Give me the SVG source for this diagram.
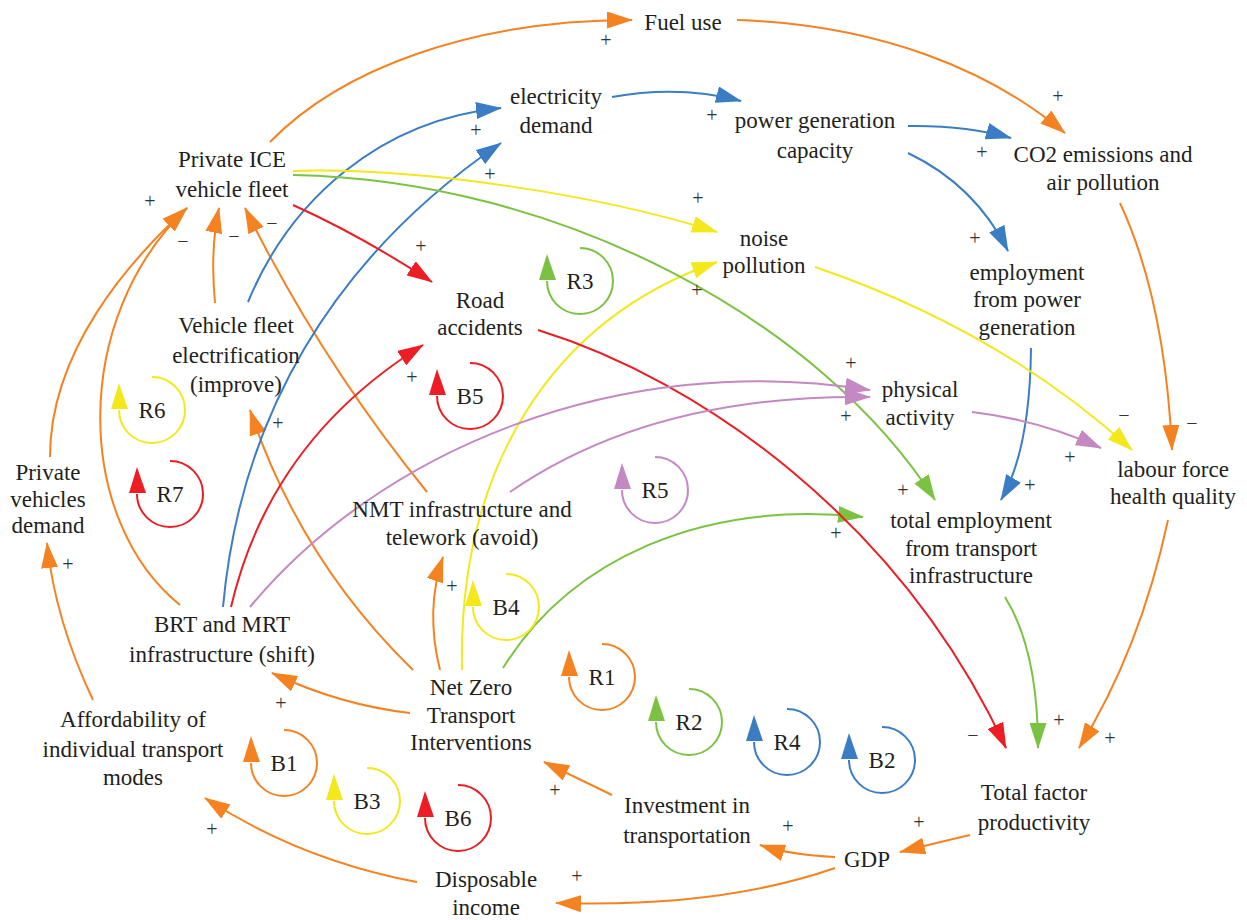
<svg xmlns="http://www.w3.org/2000/svg" width="1247" height="920" viewBox="0 0 1247 920" font-family="'Liberation Serif', 'DejaVu Serif', serif">
<style>
text{font-family:"Liberation Serif","DejaVu Serif",serif;fill:#231f20}
.n{font-size:23px;text-anchor:middle}
.s{font-size:20px;text-anchor:middle;fill:#333}
.c{fill:none;stroke-width:2}
.o{stroke:#f58220}.b{stroke:#3b7dc4}.y{stroke:#f2e81c}.g{stroke:#7cc242}.r{stroke:#ec1d25}.p{stroke:#c488c2}
.fo{fill:#f58220}.fb{fill:#3b7dc4}.fy{fill:#f2e81c}.fg{fill:#7cc242}.fr{fill:#ec1d25}.fp{fill:#c488c2}
</style>
<defs>
<marker id="mo" markerUnits="userSpaceOnUse" viewBox="0 0 26 17" markerWidth="26" markerHeight="17" refX="25" refY="8.5" orient="auto"><path d="M0,0 L26,8.5 L0,17 z" class="fo"/></marker>
<marker id="mb" markerUnits="userSpaceOnUse" viewBox="0 0 26 17" markerWidth="26" markerHeight="17" refX="25" refY="8.5" orient="auto"><path d="M0,0 L26,8.5 L0,17 z" class="fb"/></marker>
<marker id="my" markerUnits="userSpaceOnUse" viewBox="0 0 26 17" markerWidth="26" markerHeight="17" refX="25" refY="8.5" orient="auto"><path d="M0,0 L26,8.5 L0,17 z" class="fy"/></marker>
<marker id="mg" markerUnits="userSpaceOnUse" viewBox="0 0 26 17" markerWidth="26" markerHeight="17" refX="25" refY="8.5" orient="auto"><path d="M0,0 L26,8.5 L0,17 z" class="fg"/></marker>
<marker id="mr" markerUnits="userSpaceOnUse" viewBox="0 0 26 17" markerWidth="26" markerHeight="17" refX="25" refY="8.5" orient="auto"><path d="M0,0 L26,8.5 L0,17 z" class="fr"/></marker>
<marker id="mp" markerUnits="userSpaceOnUse" viewBox="0 0 26 17" markerWidth="26" markerHeight="17" refX="25" refY="8.5" orient="auto"><path d="M0,0 L26,8.5 L0,17 z" class="fp"/></marker>
<g id="loop"><path d="M0,-33 A33,33 0 1,1 -33,0" fill="none" stroke-width="2"/></g>
</defs>
<rect width="1247" height="920" fill="#fff"/>
<g id="connectors">
<g class="c o" marker-end="url(#mo)">
<path d="M270,142 C340,70 470,20 632,20"/>
<path d="M737,20 C880,25 990,70 1065,133"/>
<path d="M1120,203 Q1165,300 1172,450"/>
<path d="M1168,520 Q1140,650 1079,748"/>
<path d="M970,835 Q940,842 900,852"/>
<path d="M835,857 Q790,855 760,845"/>
<path d="M835,868 Q720,908 556,903"/>
<path d="M612,795 L544,762"/>
<path d="M417,882 Q300,860 205,798"/>
<path d="M93,700 Q55,620 47,543"/>
<path d="M50,457 C50,350 130,260 187,208"/>
<path d="M180,605 C75,520 70,320 187,208"/>
<path d="M215,303 Q210,250 219,208"/>
<path d="M427,492 Q320,360 245,208"/>
<path d="M413,670 Q300,560 250,410"/>
<path d="M410,713 Q340,705 272,673"/>
<path d="M440,670 Q425,610 443,557"/>
</g>
<g class="c b" marker-end="url(#mb)">
<path d="M248,302 C290,200 380,120 501,108"/>
<path d="M223,607 C240,420 330,260 501,143"/>
<path d="M612,97 Q680,85 741,101"/>
<path d="M908,126 Q965,125 1011,138"/>
<path d="M908,153 Q975,185 1008,251"/>
<path d="M1031,348 Q1030,450 1001,500"/>
</g>
<g class="c y" marker-end="url(#my)">
<path d="M293,171 C420,167 600,195 717,232"/>
<path d="M815,267 Q1000,330 1132,450"/>
<path d="M462,670 C458,470 550,320 717,262"/>
</g>
<g class="c g" marker-end="url(#mg)">
<path d="M293,175 C560,180 820,320 935,500"/>
<path d="M503,668 C570,560 700,500 863,517"/>
<path d="M1005,597 Q1038,650 1038,748"/>
</g>
<g class="c r" marker-end="url(#mr)">
<path d="M293,205 Q360,235 432,282"/>
<path d="M231,607 Q270,440 423,345"/>
<path d="M538,330 C700,380 900,520 1006,748"/>
</g>
<g class="c p" marker-end="url(#mp)">
<path d="M250,607 C380,450 620,350 870,390"/>
<path d="M510,492 C600,430 720,395 870,397"/>
<path d="M972,412 Q1040,420 1101,448"/>
</g>
</g>
<g id="signs" font-family="'Liberation Serif', 'DejaVu Serif', serif">
<text class="s" x="606" y="47">+</text>
<text class="s" x="1058" y="103">+</text>
<text class="s" x="1192" y="430">−</text>
<text class="s" x="1110" y="745">+</text>
<text class="s" x="919" y="829">+</text>
<text class="s" x="788" y="833">+</text>
<text class="s" x="577" y="883">+</text>
<text class="s" x="555" y="797">+</text>
<text class="s" x="212" y="836">+</text>
<text class="s" x="68" y="571">+</text>
<text class="s" x="150" y="208">+</text>
<text class="s" x="183" y="248">−</text>
<text class="s" x="234" y="243">−</text>
<text class="s" x="272" y="230">−</text>
<text class="s" x="278" y="430">+</text>
<text class="s" x="281" y="710">+</text>
<text class="s" x="452" y="593">+</text>
<text class="s" x="476" y="137">+</text>
<text class="s" x="490" y="181">+</text>
<text class="s" x="712" y="122">+</text>
<text class="s" x="982" y="159">+</text>
<text class="s" x="975" y="245">+</text>
<text class="s" x="1030" y="492">+</text>
<text class="s" x="698" y="205">+</text>
<text class="s" x="1124" y="422">−</text>
<text class="s" x="697" y="297">+</text>
<text class="s" x="903" y="497">+</text>
<text class="s" x="836" y="540">+</text>
<text class="s" x="1059" y="727">+</text>
<text class="s" x="421" y="253">+</text>
<text class="s" x="412" y="384">+</text>
<text class="s" x="973" y="742">−</text>
<text class="s" x="851" y="370">+</text>
<text class="s" x="846" y="423">+</text>
<text class="s" x="1070" y="464">+</text>
</g>
<g id="loops" font-family="'Liberation Serif', 'DejaVu Serif', serif">
<g id="loop-R3" transform="translate(580,281)"><use href="#loop" class="g"/><polygon points="-33,-27 -41,-1 -24,-1" class="fg"/><text class="n" y="8">R3</text></g>
<g id="loop-B5" transform="translate(470,396)"><use href="#loop" class="r"/><polygon points="-33,-27 -41,-1 -24,-1" class="fr"/><text class="n" y="8">B5</text></g>
<g id="loop-R6" transform="translate(152,410)"><use href="#loop" class="y"/><polygon points="-33,-27 -41,-1 -24,-1" class="fy"/><text class="n" y="8">R6</text></g>
<g id="loop-R7" transform="translate(170,494)"><use href="#loop" class="r"/><polygon points="-33,-27 -41,-1 -24,-1" class="fr"/><text class="n" y="8">R7</text></g>
<g id="loop-R5" transform="translate(655,490)"><use href="#loop" class="p"/><polygon points="-33,-27 -41,-1 -24,-1" class="fp"/><text class="n" y="8">R5</text></g>
<g id="loop-B4" transform="translate(506,607)"><use href="#loop" class="y"/><polygon points="-33,-27 -41,-1 -24,-1" class="fy"/><text class="n" y="8">B4</text></g>
<g id="loop-R1" transform="translate(602,677)"><use href="#loop" class="o"/><polygon points="-33,-27 -41,-1 -24,-1" class="fo"/><text class="n" y="8">R1</text></g>
<g id="loop-R2" transform="translate(689,722)"><use href="#loop" class="g"/><polygon points="-33,-27 -41,-1 -24,-1" class="fg"/><text class="n" y="8">R2</text></g>
<g id="loop-R4" transform="translate(787,742)"><use href="#loop" class="b"/><polygon points="-33,-27 -41,-1 -24,-1" class="fb"/><text class="n" y="8">R4</text></g>
<g id="loop-B2" transform="translate(882,760)"><use href="#loop" class="b"/><polygon points="-33,-27 -41,-1 -24,-1" class="fb"/><text class="n" y="8">B2</text></g>
<g id="loop-B6" transform="translate(458,818)"><use href="#loop" class="r"/><polygon points="-33,-27 -41,-1 -24,-1" class="fr"/><text class="n" y="8">B6</text></g>
<g id="loop-B1" transform="translate(284,763)"><use href="#loop" class="o"/><polygon points="-33,-27 -41,-1 -24,-1" class="fo"/><text class="n" y="8">B1</text></g>
<g id="loop-B3" transform="translate(367,801)"><use href="#loop" class="y"/><polygon points="-33,-27 -41,-1 -24,-1" class="fy"/><text class="n" y="8">B3</text></g>
</g>
<g id="nodes" font-family="'Liberation Serif', 'DejaVu Serif', serif">
<g id="node-fuel"><text class="n" x="683" y="30">Fuel use</text></g>
<g id="node-electricity"><text class="n" x="556" y="104">electricity<tspan x="556" y="133">demand</tspan></text></g>
<g id="node-power"><text class="n" x="815" y="128">power generation<tspan x="815" y="158">capacity</tspan></text></g>
<g id="node-co2"><text class="n" x="1103" y="162">CO2 emissions and<tspan x="1103" y="190">air pollution</tspan></text></g>
<g id="node-ice"><text class="n" x="232" y="167">Private ICE<tspan x="232" y="197">vehicle fleet</tspan></text></g>
<g id="node-noise"><text class="n" x="764" y="246">noise<tspan x="764" y="273">pollution</tspan></text></g>
<g id="node-road"><text class="n" x="480" y="308">Road<tspan x="480" y="335">accidents</tspan></text></g>
<g id="node-emppower"><text class="n" x="1027" y="280">employment<tspan x="1027" y="307">from power</tspan><tspan x="1027" y="335">generation</tspan></text></g>
<g id="node-physical"><text class="n" x="920" y="397">physical<tspan x="920" y="425">activity</tspan></text></g>
<g id="node-labour"><text class="n" x="1173" y="477">labour force<tspan x="1173" y="504">health quality</tspan></text></g>
<g id="node-emptransport"><text class="n" x="971" y="528">total employment<tspan x="971" y="556">from transport</tspan><tspan x="971" y="583">infrastructure</tspan></text></g>
<g id="node-electrification"><text class="n" x="236" y="333">Vehicle fleet<tspan x="236" y="363">electrification</tspan><tspan x="236" y="392">(improve)</tspan></text></g>
<g id="node-pvdemand"><text class="n" x="48" y="480">Private<tspan x="48" y="507">vehicles</tspan><tspan x="48" y="533">demand</tspan></text></g>
<g id="node-nmt"><text class="n" x="462" y="517">NMT infrastructure and<tspan x="462" y="545">telework (avoid)</tspan></text></g>
<g id="node-brt"><text class="n" x="222" y="632">BRT and MRT<tspan x="222" y="662">infrastructure (shift)</tspan></text></g>
<g id="node-afford"><text class="n" x="133" y="727">Affordability of<tspan x="133" y="757">individual transport</tspan><tspan x="133" y="785">modes</tspan></text></g>
<g id="node-netzero"><text class="n" x="471" y="695">Net Zero<tspan x="471" y="723">Transport</tspan><tspan x="471" y="750">Interventions</tspan></text></g>
<g id="node-invest"><text class="n" x="687" y="813">Investment in<tspan x="687" y="843">transportation</tspan></text></g>
<g id="node-income"><text class="n" x="486" y="887">Disposable<tspan x="486" y="915">income</tspan></text></g>
<g id="node-gdp"><text class="n" x="867" y="867">GDP</text></g>
<g id="node-tfp"><text class="n" x="1034" y="800">Total factor<tspan x="1034" y="830">productivity</tspan></text></g>
</g>
</svg>
